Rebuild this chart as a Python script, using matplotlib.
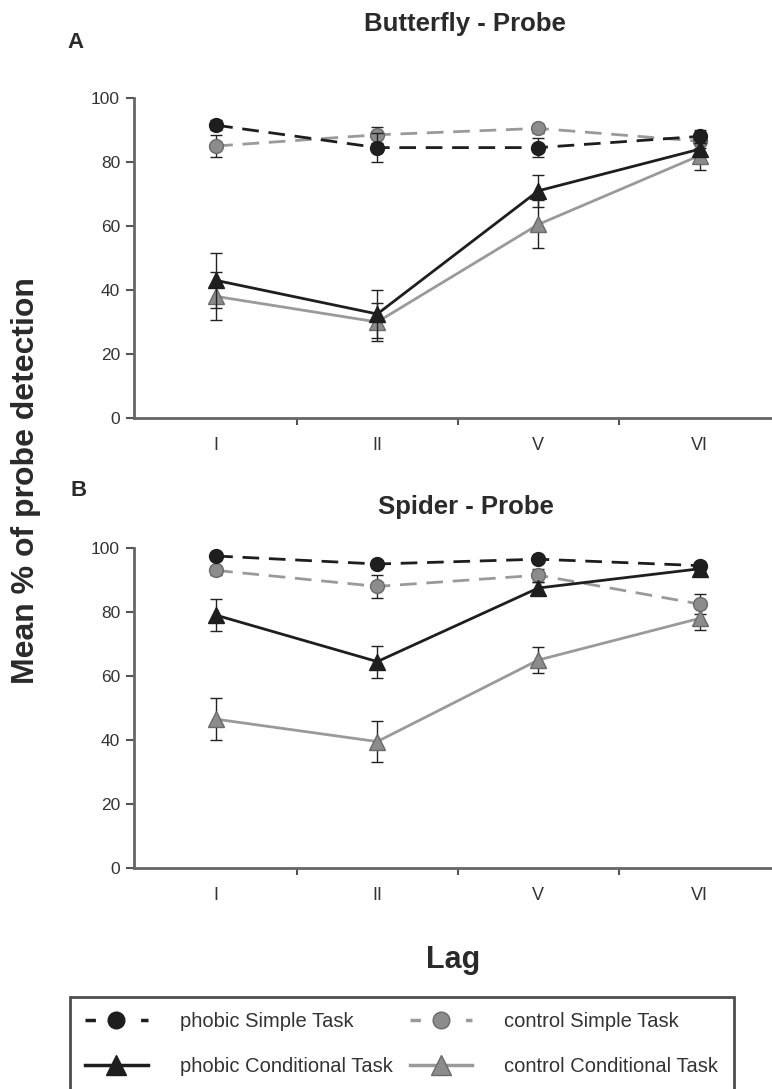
import numpy as np
import matplotlib
matplotlib.use("Agg")
import matplotlib.pyplot as plt
from matplotlib.lines import Line2D

plt.rcParams['font.family'] = ['Liberation Sans', 'DejaVu Sans']

lags = ["I", "II", "V", "VI"]

# A: Butterfly - Probe
bf_phobic_simple = [91.5, 84.5, 84.5, 88.0]
bf_phobic_simple_err = [1.5, 4.5, 3.0, 2.0]
bf_control_simple = [85.0, 88.5, 90.5, 86.5]
bf_control_simple_err = [3.5, 2.5, 1.5, 2.0]
bf_phobic_cond = [43.0, 32.5, 71.0, 84.0]
bf_phobic_cond_err = [8.5, 7.5, 5.0, 2.0]
bf_control_cond = [38.0, 30.0, 60.5, 82.0]
bf_control_cond_err = [7.5, 6.0, 7.5, 4.5]

# B: Spider - Probe
sp_phobic_simple = [97.5, 95.0, 96.5, 94.5]
sp_phobic_simple_err = [1.0, 1.0, 1.0, 1.0]
sp_control_simple = [93.0, 88.0, 91.5, 82.5]
sp_control_simple_err = [1.5, 3.5, 2.0, 3.0]
sp_phobic_cond = [79.0, 64.5, 87.5, 93.5]
sp_phobic_cond_err = [5.0, 5.0, 2.0, 1.0]
sp_control_cond = [46.5, 39.5, 65.0, 78.0]
sp_control_cond_err = [6.5, 6.5, 4.0, 3.5]

legend_labels = ["phobic Simple Task", "phobic Conditional Task",
                 "control Simple Task", "control Conditional Task"]

DARK = "#1e1e1e"
GREY = "#8c8c8c"
GREY_EDGE = "#6a6a6a"
TXT = "#2a2a2a"
DASH = (0, (6, 3.5))
W, H = 772, 1089

fig = plt.figure(figsize=(W / 100, H / 100), dpi=100)


def panel(ax, ps, pse, cs, cse, pc, pce, cc, cce):
    x = np.arange(len(lags))
    eb = dict(ecolor="#222222", elinewidth=1, capsize=4, capthick=1)
    ax.errorbar(x, cc, yerr=cce, color="#9a9a9a", lw=2, marker="^", ms=12,
                mfc=GREY, mec=GREY_EDGE, zorder=2, **eb)
    ax.errorbar(x, cs, yerr=cse, color="#9a9a9a", lw=2, ls=DASH, marker="o", ms=10,
                mfc=GREY, mec=GREY_EDGE, zorder=2, **eb)
    ax.errorbar(x, pc, yerr=pce, color=DARK, lw=2, marker="^", ms=12,
                mfc=DARK, mec=DARK, zorder=3, **eb)
    ax.errorbar(x, ps, yerr=pse, color=DARK, lw=2, ls=DASH, marker="o", ms=10,
                mfc=DARK, mec=DARK, zorder=3, **eb)
    ax.set_xlim(-0.51, 3.45)
    ax.set_ylim(0, 100)
    ax.set_yticks(range(0, 101, 20))
    ax.set_xticks([0.5, 1.5, 2.5])
    ax.set_xticklabels([])
    ax.set_xticks(x, minor=True)
    ax.set_xticklabels(lags, minor=True)
    ax.tick_params(axis="x", which="minor", length=0, pad=14, labelsize=13, labelcolor="#333333")
    ax.tick_params(axis="x", which="major", length=5, width=1.5, color="#555555")
    ax.tick_params(axis="y", length=6, width=1.5, color="#555555", pad=4,
                   labelsize=12.5, labelcolor="#333333")
    for s in ["top", "right"]:
        ax.spines[s].set_visible(False)
    for s in ["left", "bottom"]:
        ax.spines[s].set_color("#666666")
        ax.spines[s].set_linewidth(2)
    ax.set_facecolor("none")


left = 134 / W
ax1 = fig.add_axes([left, 1 - 418 / H, 1 - left, 320 / H])
panel(ax1, bf_phobic_simple, bf_phobic_simple_err, bf_control_simple, bf_control_simple_err,
      bf_phobic_cond, bf_phobic_cond_err, bf_control_cond, bf_control_cond_err)
ax2 = fig.add_axes([left, 1 - 868 / H, 1 - left, 320 / H])
panel(ax2, sp_phobic_simple, sp_phobic_simple_err, sp_control_simple, sp_control_simple_err,
      sp_phobic_cond, sp_phobic_cond_err, sp_control_cond, sp_control_cond_err)

fig.text(465 / W, 1 - 24 / H, "Butterfly - Probe", ha="center", va="center",
         fontsize=18.5, fontweight="bold", color=TXT)
fig.text(466 / W, 1 - 507 / H, "Spider - Probe", ha="center", va="center",
         fontsize=18.5, fontweight="bold", color=TXT)
fig.text(76 / W, 1 - 42 / H, "A", ha="center", va="center", fontsize=16,
         fontweight="bold", color=TXT)
fig.text(79 / W, 1 - 490 / H, "B", ha="center", va="center", fontsize=16,
         fontweight="bold", color=TXT)
fig.text(26 / W, 1 - 481 / H, "Mean % of probe detection", rotation=90, ha="center",
         va="center", fontsize=23, fontweight="bold", color=TXT)
fig.text(453 / W, 1 - 960 / H, "Lag", ha="center", va="center", fontsize=22,
         fontweight="bold", color=TXT)

handles = [
    Line2D([], [], color=DARK, lw=2.5, ls=(0, (3, 5)), marker="o", ms=12, mfc=DARK, mec=DARK),
    Line2D([], [], color=DARK, lw=2.5, marker="^", ms=14, mfc=DARK, mec=DARK),
    Line2D([], [], color="#9a9a9a", lw=2.5, ls=(0, (3, 5)), marker="o", ms=12, mfc=GREY, mec=GREY_EDGE),
    Line2D([], [], color="#9a9a9a", lw=2.5, marker="^", ms=14, mfc=GREY, mec=GREY_EDGE),
]
leg = fig.legend(handles, legend_labels, ncol=2, loc="upper left",
                 bbox_to_anchor=(70 / W, 1 - 997 / H), frameon=True,
                 fancybox=False, fontsize=14.5, handlelength=3.1, handletextpad=1.6,
                 columnspacing=0.85, labelspacing=1.3, borderpad=0.75, borderaxespad=0)
leg.get_frame().set_edgecolor("#222222")
leg.get_frame().set_linewidth(2)
for t in leg.get_texts():
    t.set_color("#333333")

fig.savefig("out.png", dpi=100)
